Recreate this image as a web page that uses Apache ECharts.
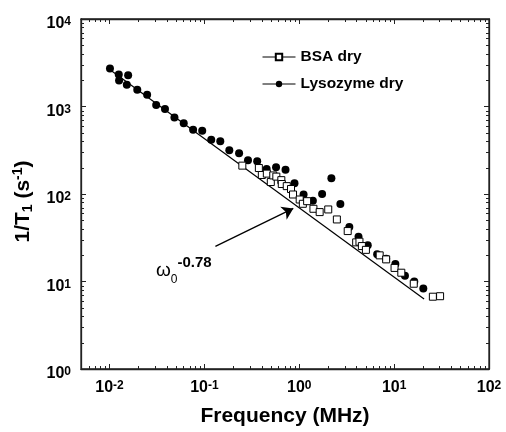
<!DOCTYPE html>
<html>
<head>
<meta charset="utf-8">
<script src="https://cdn.jsdelivr.net/npm/echarts@6/dist/echarts.min.js"></script>
<style>
html,body{margin:0;padding:0;background:#fff;}
#chart{width:506px;height:432px;}
</style>
</head>
<body>
<div id="chart"></div>
<script>
// ---- data ----
const lysFreq = [0.0101, 0.0125, 0.0157, 0.0126, 0.0152, 0.0196, 0.0249, 0.0310, 0.0384, 0.0483, 0.0605, 0.0760, 0.0948, 0.118, 0.147, 0.183, 0.232, 0.288, 0.360, 0.453, 0.569, 0.716, 0.890, 1.11, 1.39, 1.74, 2.18, 2.71, 3.37, 4.21, 5.27, 6.62, 8.24, 10.3, 13.0, 16.3, 20.3];
const lysRate = [2715, 2318, 2270, 1982, 1778, 1552, 1361, 1039, 938, 750, 644, 543, 529, 416, 402, 317, 292, 243, 236, 193, 202, 189, 133, 98.7, 83.9, 100, 151, 76.7, 42, 32.5, 26.0, 20.5, 18.2, 15.9, 11.6, 10.0, 8.33];
const bsaFreq = [0.251, 0.375, 0.403, 0.455, 0.501, 0.532, 0.573, 0.647, 0.654, 0.738, 0.818, 0.859, 1.01, 1.09, 1.21, 1.41, 1.64, 2.02, 2.49, 3.24, 3.98, 4.31, 4.57, 5.04, 7.04, 8.24, 10.1, 11.9, 16.1, 25.6, 30.5];
const bsaRate = [211, 198, 165, 171, 137, 163, 158, 144, 130, 123, 114, 98.7, 86.5, 77.3, 82.8, 67.8, 62.1, 66.6, 51.2, 37.7, 28.0, 28.5, 25.4, 23.0, 19.9, 17.9, 14.3, 12.6, 9.43, 6.70, 6.79];
const fitFreq = [0.0102, 20.7];
const fitRate = [2620, 6.3];
const arrowFrom = [0.1305, 25.2];
const arrowTo = [0.865, 68.4];
const annotPos = [0.0606, 13.4];
const seriesNames = ['BSA dry', 'Lysozyme dry'];
const xRange = [0.005, 100];
const yRange = [1, 10000];
const minorSteps = [2, 3, 4, 5, 6, 7, 8, 9];

const xMinor = [];
for (let d = -3; d <= 1; d++) minorSteps.forEach(k => { const v = k * Math.pow(10, d); if (v > xRange[0] * 1.0001 && v < xRange[1]) xMinor.push(v); });
const yMinor = [];
for (let d = 0; d <= 3; d++) minorSteps.forEach(k => yMinor.push(k * Math.pow(10, d)));

const zip = (a, b) => a.map((v, i) => [v, b[i]]);

function powLabel(value) {
  const e = Math.round(Math.log10(value));
  if (Math.abs(value - Math.pow(10, e)) / value > 1e-6) return '';
  return '{b|10}{s|' + e + '}';
}
const labelRich = {
  b: {fontSize: 16, fontWeight: 'bold', fontFamily: 'Liberation Sans', color: '#000', lineHeight: 16, verticalAlign: 'bottom'},
  s: {fontSize: 12, fontWeight: 'bold', fontFamily: 'Liberation Sans', color: '#000', lineHeight: 12, verticalAlign: 'top', padding: [0, 0, 6, 0]}
};

function tickRenderer(axis) {
  return function (params, api) {
    const v = api.value(axis === 'x' ? 0 : 1);
    let a, b;
    if (axis === 'x') {
      a = api.coord([v, yRange[0]]); b = api.coord([v, yRange[1]]);
      const x = Math.round(a[0]) + 0.5;
      return {type: 'group', children: [
        {type: 'line', shape: {x1: x, y1: a[1], x2: x, y2: a[1] - 3}, style: {stroke: '#222', lineWidth: 1}},
        {type: 'line', shape: {x1: x, y1: b[1], x2: x, y2: b[1] + 3}, style: {stroke: '#222', lineWidth: 1}}
      ]};
    } else {
      a = api.coord([xRange[0], v]); b = api.coord([xRange[1], v]);
      const y = Math.round(a[1]) + 0.5;
      return {type: 'group', children: [
        {type: 'line', shape: {x1: a[0], y1: y, x2: a[0] + 3, y2: y}, style: {stroke: '#222', lineWidth: 1}},
        {type: 'line', shape: {x1: b[0], y1: y, x2: b[0] - 3, y2: y}, style: {stroke: '#222', lineWidth: 1}}
      ]};
    }
  };
}

const chart = echarts.init(document.getElementById('chart'));
const logAxis = (extra) => Object.assign({
  type: 'log', logBase: 10,
  axisLine: {show: true, onZero: false, lineStyle: {color: '#222', width: 1.3}},
  axisTick: {show: true, inside: true, length: 5, lineStyle: {color: '#222', width: 1}},
  splitLine: {show: false},
  minorTick: {show: false}
}, extra);

chart.setOption({
  animation: false,
  grid: {left: 81, right: 17, top: 19, bottom: 62, show: true, borderColor: '#222', borderWidth: 1.3, backgroundColor: 'transparent'},
  legend: {
    orient: 'vertical', left: 257, top: 44, itemGap: 11, itemWidth: 33, itemHeight: 8,
    textStyle: {fontSize: 15.5, fontWeight: 'bold', fontFamily: 'Liberation Sans', color: '#000'},
    lineStyle: {opacity: 1, color: '#000', width: 1},
    data: seriesNames
  },
  xAxis: [
    logAxis({min: xRange[0], max: xRange[1], position: 'bottom',
      axisLabel: {show: true, formatter: powLabel, rich: labelRich, margin: 11, showMinLabel: true},
      name: 'Frequency (MHz)', nameLocation: 'middle', nameGap: 37,
      nameTextStyle: {fontSize: 21, fontWeight: 'bold', fontFamily: 'Liberation Sans', color: '#000'}
    }),
    logAxis({min: xRange[0], max: xRange[1], position: 'top', axisLabel: {show: false}})
  ],
  yAxis: [
    logAxis({min: yRange[0], max: yRange[1], position: 'left',
      axisLabel: {show: true, formatter: powLabel, rich: labelRich, margin: 10, padding: [10, 0, 0, 0]},
      name: '{a|1/T}{sub|1}{a| (s}{sup|-1}{a|)}', nameLocation: 'middle', nameGap: 44, nameRotate: 90,
      nameTextStyle: {
        padding: [0, 15, 0, 0],
        rich: {
          a: {fontSize: 21, fontWeight: 'bold', fontFamily: 'Liberation Sans', color: '#000', lineHeight: 24, verticalAlign: 'middle'},
          sub: {fontSize: 14, fontWeight: 'bold', fontFamily: 'Liberation Sans', color: '#000', lineHeight: 14, verticalAlign: 'bottom'},
          sup: {fontSize: 14, fontWeight: 'bold', fontFamily: 'Liberation Sans', color: '#000', lineHeight: 14, verticalAlign: 'top'}
        }
      }
    }),
    logAxis({min: yRange[0], max: yRange[1], position: 'right', axisLabel: {show: false}})
  ],
  series: [
    {
      type: 'line', name: 'fit', data: zip(fitFreq, fitRate), symbol: 'none',
      lineStyle: {color: '#000', width: 1.2}, z: 2, silent: true,
      markLine: {
        silent: true, symbol: ['none', 'arrow'], symbolSize: 11,
        lineStyle: {color: '#000', width: 1.3, type: 'solid'},
        label: {show: false},
        data: [[{coord: arrowFrom}, {coord: arrowTo}]]
      },
      markPoint: {
        silent: true, symbol: 'circle', symbolSize: 1, itemStyle: {color: 'rgba(0,0,0,0)'},
        label: {
          show: true, position: 'inside',
          formatter: '{w|ω}{sub|0}{sup|-0.78}',
          rich: {
            w: {fontSize: 19, fontFamily: 'Liberation Sans', color: '#000', lineHeight: 30, verticalAlign: 'middle'},
            sub: {fontSize: 12, fontFamily: 'Liberation Sans', color: '#000', lineHeight: 12, verticalAlign: 'bottom'},
            sup: {fontSize: 15, fontWeight: 'bold', fontFamily: 'Liberation Sans', color: '#000', lineHeight: 15, verticalAlign: 'top'}
          }
        },
        data: [{coord: annotPos}]
      }
    },
    {
      type: 'line', name: seriesNames[1], data: zip(lysFreq, lysRate),
      symbol: 'circle', symbolSize: 8, itemStyle: {color: '#000'},
      lineStyle: {opacity: 0}, z: 3
    },
    {
      type: 'line', name: seriesNames[0], data: zip(bsaFreq, bsaRate),
      symbol: 'rect', symbolSize: 7, itemStyle: {color: '#fff', borderColor: '#000', borderWidth: 1},
      lineStyle: {opacity: 0}, z: 4
    },
    {
      type: 'custom', name: 'xminor', renderItem: tickRenderer('x'), clip: false,
      data: xMinor.map(v => [v, yRange[0]]), z: 5
    },
    {
      type: 'custom', name: 'yminor', renderItem: tickRenderer('y'), clip: false,
      data: yMinor.map(v => [xRange[0], v]), z: 5
    }
  ]
});
</script>
</body>
</html>
